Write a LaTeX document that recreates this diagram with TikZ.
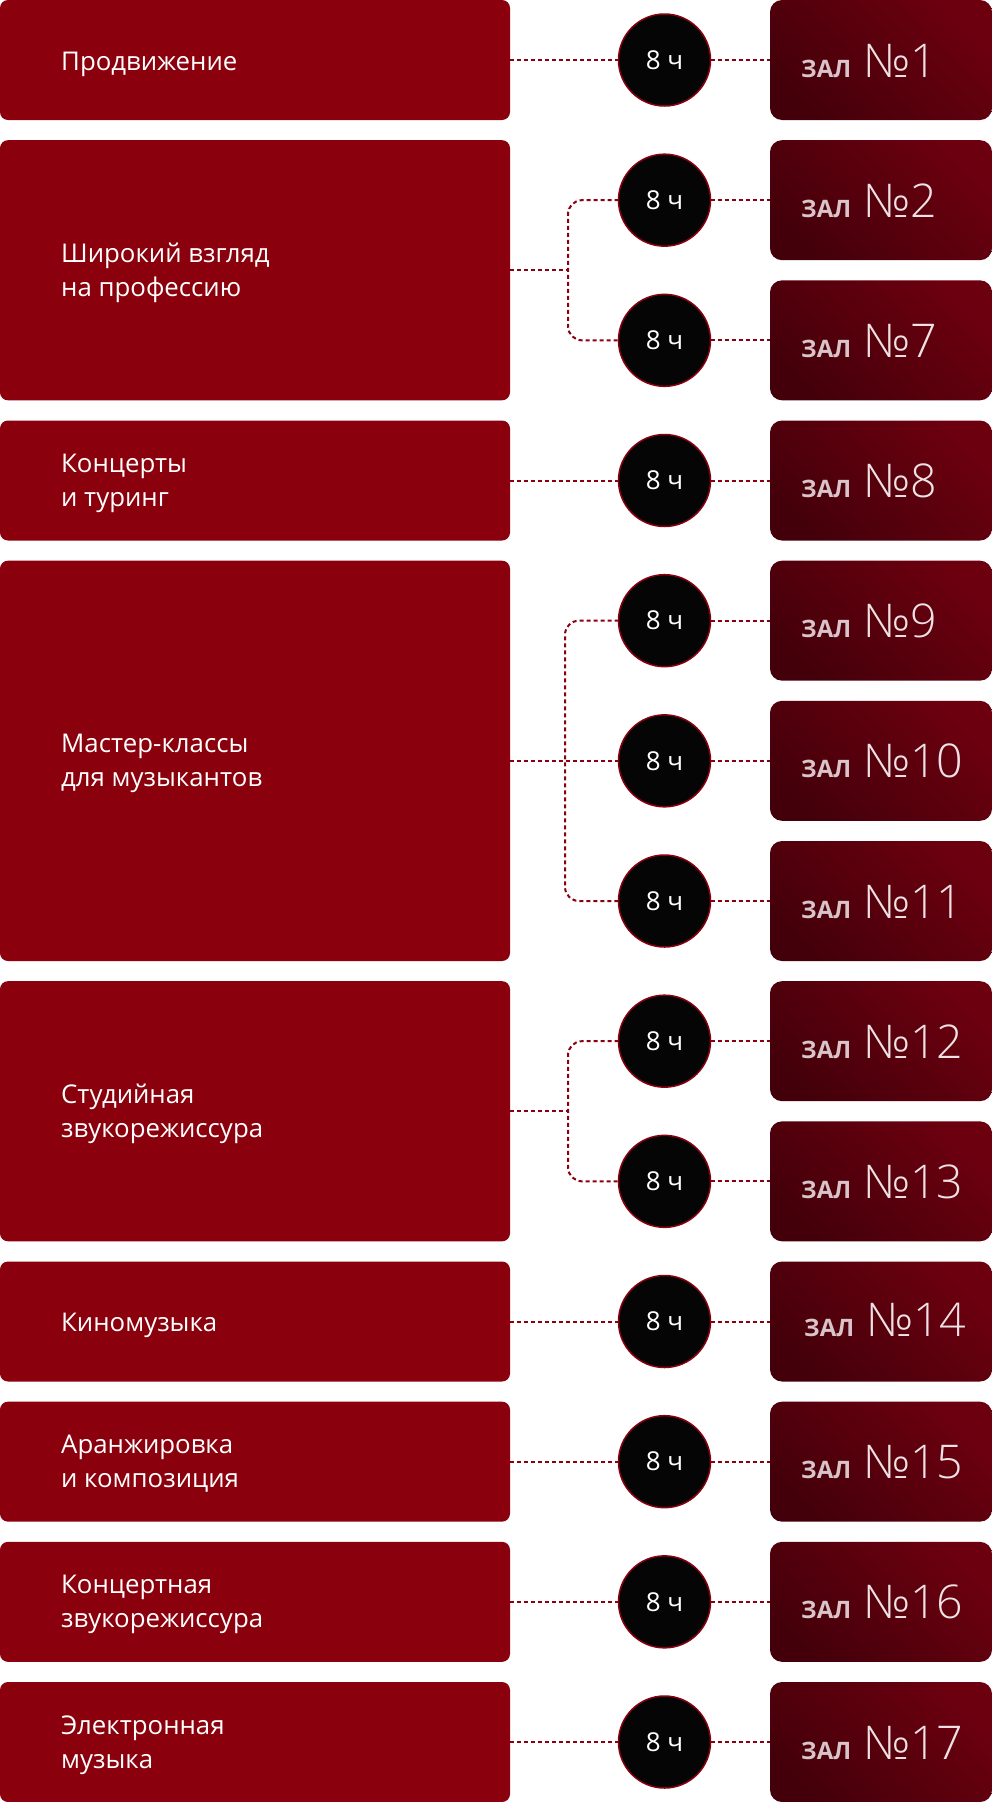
\documentclass[tikz,border=0pt]{standalone}
\usepackage{fontspec}
\setmainfont{Open Sans}
\newfontfamily\lightfont{Open Sans Light}
\definecolor{boxred}{HTML}{8A000D}
\definecolor{rdark}{HTML}{44000A}
\definecolor{rlight}{HTML}{6C000F}
\definecolor{connred}{HTML}{8A0010}
\definecolor{circfill}{HTML}{050505}
\definecolor{zalcol}{HTML}{D9C5C9}
\definecolor{numcol}{HTML}{EFE2E5}
\newcommand{\zal}{{\color{zalcol}\bfseries\fontsize{24}{24}\selectfont ЗАЛ}}
\newcommand{\hallno}[1]{{\color{numcol}\lightfont\fontsize{46.5}{46.5}\selectfont №#1}}
\def\P{140.1667}
\begin{document}
\begin{tikzpicture}[x=1pt,y=-1pt,
  lbox/.style={fill=boxred, rounded corners=8pt, minimum width=510pt, inner sep=0pt, outer sep=0pt},
  rbox/.style={rounded corners=12pt, minimum width=222pt, minimum height=120pt, inner sep=0pt, outer sep=0pt, top color=rlight, bottom color=rdark, shading angle=-45},
  circ/.style={circle, fill=circfill, draw=connred, line width=1.5pt, minimum size=92pt, inner sep=0pt, outer sep=0pt, text=white, font=\fontsize{26}{26}\selectfont},
  conn/.style={draw=connred, line width=2pt, dash pattern=on 4pt off 3pt},
  ltext/.style={text=white, font=\fontsize{25.8}{34}\selectfont, inner sep=0pt, anchor=base west},
  rtext/.style={inner sep=0pt, anchor=base west}]
\fill[white] (0,0) rectangle (992,1802);
\useasboundingbox (0,0) rectangle (992,1802);

% right column: halls and circles
\foreach \s/\n in {0/1,1/2,2/7,3/8,4/9,5/10,6/11,7/12,8/13,10/15,11/16,12/17} {
  \node[rbox] (R\n) at (881,{\s*\P+60}) {};
  \node[circ] (C\n) at (664.5,{\s*\P+60}) {8 ч};
  \node[rtext] (N\n) at (801,{\s*\P+77}) {\zal\hspace{12pt}\hallno{\n}};
  \draw[conn] (C\n.east) -- (R\n.west);
}
\node[rbox] (R14) at (881,{9*\P+60}) {};
\node[circ] (C14) at (664.5,{9*\P+60}) {8 ч};
\node[rtext] (N14) at (804,{9*\P+75}) {\zal\hspace{12pt}\hallno{14}};
\draw[conn] (C14.east) -- (R14.west);

% left column boxes
\node[lbox, minimum height=120pt] (L1) at (255,{0*\P+60}) {};
\node[lbox, minimum height={\P+120}] (L2) at (255,{1.5*\P+60}) {};
\node[lbox, minimum height=120pt] (L3) at (255,{3*\P+60}) {};
\node[lbox, minimum height={2*\P+120}] (L4) at (255,{5*\P+60}) {};
\node[lbox, minimum height={\P+120}] (L5) at (255,{7.5*\P+60}) {};
\node[lbox, minimum height=120pt] (L6) at (255,{9*\P+60}) {};
\node[lbox, minimum height=120pt] (L7) at (255,{10*\P+60}) {};
\node[lbox, minimum height=120pt] (L8) at (255,{11*\P+60}) {};
\node[lbox, minimum height=120pt] (L9) at (255,{12*\P+60}) {};

% left texts
\node[ltext] (t1) at (61,{0*\P+70}) {Продвижение};
\node[ltext] (t2) at (61,{1.5*\P+52}) {Широкий взгляд};
\node[ltext] (t2b) at (61,{1.5*\P+86}) {на профессию};
\node[ltext] (t3) at (61,{3*\P+52}) {Концерты};
\node[ltext] (t3b) at (61,{3*\P+86}) {и туринг};
\node[ltext] (t4) at (61,{5*\P+52}) {Мастер-классы};
\node[ltext] (t4b) at (61,{5*\P+86}) {для музыкантов};
\node[ltext] (t5) at (61,{7.5*\P+52}) {Студийная};
\node[ltext] (t5b) at (61,{7.5*\P+86}) {звукорежиссура};
\node[ltext] (t6) at (61,{9*\P+70}) {Киномузыка};
\node[ltext] (t7) at (61,{10*\P+52}) {Аранжировка};
\node[ltext] (t7b) at (61,{10*\P+86}) {и композиция};
\node[ltext] (t8) at (61,{11*\P+52}) {Концертная};
\node[ltext] (t8b) at (61,{11*\P+86}) {звукорежиссура};
\node[ltext] (t9) at (61,{12*\P+52}) {Электронная};
\node[ltext] (t9b) at (61,{12*\P+86}) {музыка};

% single connectors
\draw[conn] (L1.east) -- (C1.west);
\draw[conn] (L3.east) -- (C8.west);
\draw[conn] (L6.east) -- (C14.west);
\draw[conn] (L7.east) -- (C15.west);
\draw[conn] (L8.east) -- (C16.west);
\draw[conn] (L9.east) -- (C17.west);

% branching connectors
\coordinate (J2) at (568,{1.5*\P+60});
\draw[conn] (L2.east) -- (J2);
\draw[conn, rounded corners=14pt] (C2.west) -| (J2) |- (C7.west);
\coordinate (J4) at (565,{5*\P+60});
\draw[conn] (L4.east) -- (C10.west);
\draw[conn, rounded corners=14pt] (C9.west) -| (J4) |- (C11.west);
\coordinate (J5) at (568,{7.5*\P+60});
\draw[conn] (L5.east) -- (J5);
\draw[conn, rounded corners=14pt] (C12.west) -| (J5) |- (C13.west);
\end{tikzpicture}
\end{document}
